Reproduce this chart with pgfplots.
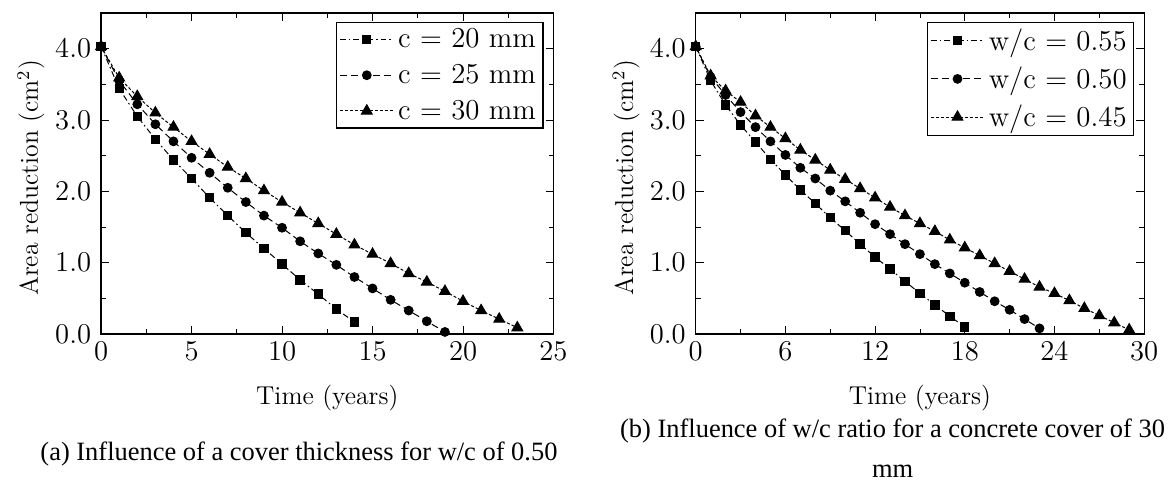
\documentclass[border=0pt]{standalone}
\usepackage{pgfplots}
\pgfplotsset{compat=1.18}
\usepackage{fontspec}
\newfontfamily\capfont{Liberation Serif}
\begin{document}
\pgfplotsset{
  myaxis/.style={
    scale only axis,
    height=161.5pt,
    ymin=0, ymax=4.5,
    ytick={0,1,2,3,4},
    minor ytick={0.5,1.5,2.5,3.5},
    yticklabel style={/pgf/number format/fixed,/pgf/number format/fixed zerofill,/pgf/number format/precision=1},
    tick align=inside,
    major tick length=4pt, minor tick length=2.5pt,
    tick style={black, line width=0.4pt},
    axis line style={line width=0.6pt},
    ticklabel style={font=\fontsize{14.3}{15}\selectfont},
    yticklabel style={xshift=-1.5pt},
    xticklabel style={yshift=-0.5pt},
    label style={font=\fontsize{13}{14}\selectfont},
    xlabel={Time (years)},
    ylabel={Area reduction (cm$^2$)},
    xlabel style={at={(axis description cs:0.5,-0.198)}, anchor=center},
    ylabel style={at={(axis description cs:-0.155,0.486)}, anchor=center},
    legend style={font=\fontsize{14.5}{15}\selectfont, draw=black, line width=0.6pt, inner xsep=1.5pt, inner ysep=1pt, row sep=2.8pt, at={(0.978,0.972)}, anchor=north east},
    legend cell align=left,
    legend image code/.code={\draw[mark repeat=2,mark phase=2] plot coordinates {(0pt,0pt)(13.5pt,0pt)(27pt,0pt)};},
    every axis plot/.append style={line width=0.5pt, black},
  },
  sq/.style={dash pattern=on 3pt off 1.5pt on 0.8pt off 1.5pt, mark=square*, mark size=2.1pt, mark options={solid}},
  ci/.style={dash pattern=on 3.5pt off 2pt, mark=*, mark size=2.2pt, mark options={solid}},
  tr/.style={dash pattern=on 1.5pt off 1pt, mark=triangle*, mark size=3.1pt, mark options={solid}},
}
\begin{tikzpicture}
\useasboundingbox (-47.5pt,-75pt) rectangle (537pt,168pt);
\begin{axis}[myaxis,
  width=227.5pt,
  xmin=0, xmax=25,
  xtick={0,5,10,15,20,25},
  minor xtick={2.5,7.5,12.5,17.5,22.5},
]
\addplot[sq] coordinates {(0,4.03)(1,3.44)(2,3.05)(3,2.73)(4,2.44)(5,2.18)(6,1.91)(7,1.66)(8,1.42)(9,1.20)(10,0.98)(11,0.76)(12,0.56)(13,0.35)(14,0.17)};
\addlegendentry{c $=$ 20 mm}
\addplot[ci] coordinates {(0,4.03)(1,3.55)(2,3.22)(3,2.94)(4,2.70)(5,2.47)(6,2.26)(7,2.05)(8,1.85)(9,1.66)(10,1.49)(11,1.30)(12,1.13)(13,0.97)(14,0.80)(15,0.64)(16,0.48)(17,0.33)(18,0.18)(19,0.03)};
\addlegendentry{c $=$ 25 mm}
\addplot[tr] coordinates {(0,4.03)(1,3.59)(2,3.33)(3,3.10)(4,2.90)(5,2.70)(6,2.52)(7,2.34)(8,2.18)(9,2.01)(10,1.85)(11,1.70)(12,1.55)(13,1.40)(14,1.25)(15,1.12)(16,0.99)(17,0.85)(18,0.73)(19,0.60)(20,0.46)(21,0.33)(22,0.21)(23,0.09)};
\addlegendentry{c $=$ 30 mm}
\end{axis}
\begin{axis}[myaxis,
  at={(299pt,0pt)},
  width=225.5pt,
  xmin=0, xmax=30,
  xtick={0,6,12,18,24,30},
  minor xtick={3,9,15,21,27},
]
\addplot[sq] coordinates {(0,4.03)(1,3.55)(2,3.21)(3,2.93)(4,2.69)(5,2.45)(6,2.23)(7,2.02)(8,1.83)(9,1.63)(10,1.45)(11,1.26)(12,1.08)(13,0.91)(14,0.74)(15,0.57)(16,0.41)(17,0.25)(18,0.10)};
\addlegendentry{w/c $=$ 0.55}
\addplot[ci] coordinates {(0,4.03)(1,3.60)(2,3.35)(3,3.11)(4,2.90)(5,2.70)(6,2.51)(7,2.33)(8,2.18)(9,2.01)(10,1.86)(11,1.70)(12,1.54)(13,1.40)(14,1.26)(15,1.12)(16,0.98)(17,0.85)(18,0.72)(19,0.59)(20,0.46)(21,0.34)(22,0.21)(23,0.08)};
\addlegendentry{w/c $=$ 0.50}
\addplot[tr] coordinates {(0,4.03)(1,3.62)(2,3.41)(3,3.25)(4,3.06)(5,2.90)(6,2.74)(7,2.58)(8,2.44)(9,2.30)(10,2.17)(11,2.04)(12,1.91)(13,1.78)(14,1.66)(15,1.55)(16,1.44)(17,1.32)(18,1.21)(19,1.10)(20,0.99)(21,0.88)(22,0.77)(23,0.66)(24,0.57)(25,0.47)(26,0.36)(27,0.26)(28,0.16)(29,0.06)};
\addlegendentry{w/c $=$ 0.45}
\end{axis}
\node[font=\capfont\fontsize{13.3}{20}\selectfont] at (99.5pt,-60.5pt) {(a) Influence of a cover thickness for w/c of 0.50};
\node[font=\capfont\fontsize{13.3}{20}\selectfont, align=center] at (398pt,-57.5pt) {(b) Influence of w/c ratio for a concrete cover of 30\\mm};
\end{tikzpicture}
\end{document}
